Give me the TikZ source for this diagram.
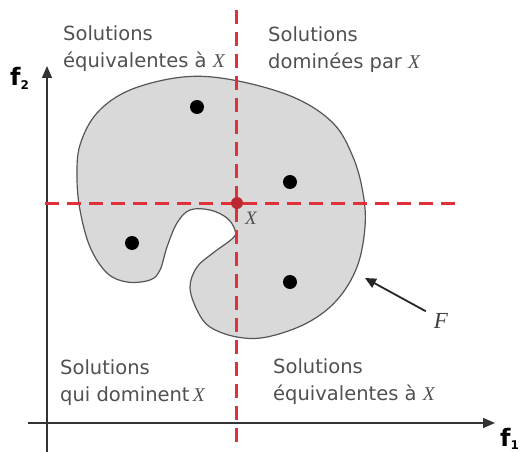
\documentclass[tikz,border=0pt]{standalone}
\usepackage{fontspec}
\setmainfont{DejaVu Sans}
\newfontfamily\xfont{Liberation Serif}
\usetikzlibrary{arrows.meta}
\definecolor{txtgray}{HTML}{505050}
\definecolor{reddash}{HTML}{E0303A}
\definecolor{blobfill}{HTML}{D9D9D9}
\definecolor{blobline}{HTML}{555555}
\newcommand{\xX}{{\xfont\itshape X}}
\tikzset{
  lbl/.style={font=\fontsize{19.5}{27}\selectfont, text=txtgray, align=left, inner sep=0pt},
  axis/.style={draw=black!80, line width=1.4pt, -{Triangle[length=12pt,width=10pt]}},
  reddashed/.style={draw=reddash, line width=3pt, dash pattern=on 14pt off 8pt},
  pt/.style={circle, fill=black, inner sep=0pt, minimum size=14pt},
  axlbl/.style={font=\bfseries\fontsize{24}{24}\selectfont, inner sep=0pt}
}
\begin{document}
\begin{tikzpicture}[x=1pt,y=-1pt]
\useasboundingbox (0,0) rectangle (520,452);
% blob
\draw[fill=blobfill, draw=blobline, line width=1.2pt] plot[smooth cycle, tension=0.6] coordinates {
(80,145) (97,113) (130,90) (183,77) (233,80) (293,97) (333,123) (353,157)
(363,193) (365,227) (357,267) (337,300) (307,323) (267,337) (237,337)
(210,327) (197,310) (190,287) (197,267) (213,253) (233,238) (235,230)
(227,218) (210,210) (190,210) (177,223) (167,247) (160,270) (150,280)
(127,282) (107,273) (90,247) (80,210) (77,177)};
% axes
\coordinate (ybot) at (47,452);
\coordinate (ytop) at (47,66);
\coordinate (xleft) at (28,423);
\coordinate (xright) at (495,423);
\draw[axis] (ybot) -- (ytop);
\draw[axis] (xleft) -- (xright);
\node[axlbl, anchor=base west] (f2) at (10,86) {f\textsubscript{\fontsize{12}{12}\selectfont 2}};
\node[axlbl, anchor=base west] (f1) at (500,446) {f\textsubscript{\fontsize{12}{12}\selectfont 1}};
% dashed lines
\coordinate (vtop) at (236,10);
\coordinate (vbot) at (236,442);
\coordinate (hleft) at (45,203);
\coordinate (hright) at (460,203);
\draw[reddashed] (vtop) -- (vbot);
\draw[reddashed] (hleft) -- (hright);
% points
\node[pt] (p1) at (197,107) {};
\node[pt] (p2) at (290,182) {};
\node[pt] (p3) at (132,243) {};
\node[pt] (p4) at (290,282) {};
\node[circle, fill=reddash!85!black, inner sep=0pt, minimum size=12pt] (X) at (237,203) {};
\node[font=\fontsize{19}{19}\selectfont, text=txtgray, inner sep=0pt] (Xl) at (251,218) {\xX};
% region labels (base = last line)
\node[lbl, anchor=base west] (tl) at (63,68) {Solutions\\équivalentes à \xX};
\node[lbl, anchor=base west] (tr) at (268,69) {Solutions\\dominées par \xX};
\node[lbl, anchor=base west] (bl) at (60,401) {Solutions\\qui dominent\,\xX};
\node[lbl, anchor=base west] (br) at (273,400) {Solutions\\équivalentes à \xX};
% F arrow
\node[font=\fontsize{23}{23}\selectfont, text=black!75, inner sep=0pt] (F) at (441,321) {{\xfont\itshape F}};
\coordinate (Fhead) at (365,278);
\draw[black!85, line width=1.8pt, -{Triangle[length=11pt,width=10pt]}] (F.north west) ++(-8,-2) coordinate (Ftail) -- (Fhead);
\end{tikzpicture}
\end{document}
